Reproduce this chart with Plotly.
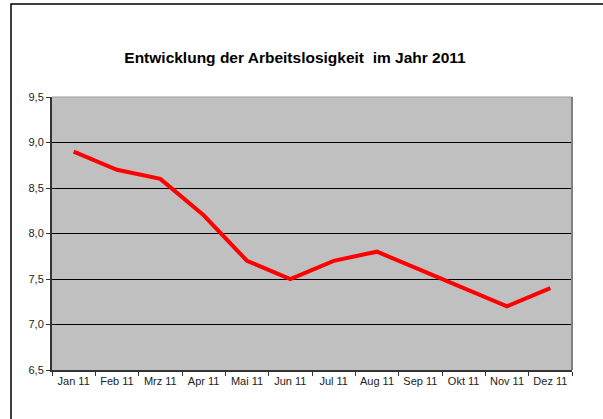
import plotly.graph_objects as go

months = ["Jan 11", "Feb 11", "Mrz 11", "Apr 11", "Mai 11", "Jun 11",
          "Jul 11", "Aug 11", "Sep 11", "Okt 11", "Nov 11", "Dez 11"]
rate = [8.9, 8.7, 8.6, 8.2, 7.7, 7.5, 7.7, 7.8, 7.6, 7.4, 7.2, 7.4]
ytick_vals = [6.5, 7.0, 7.5, 8.0, 8.5, 9.0, 9.5]
ytick_text = ["6,5", "7,0", "7,5", "8,0", "8,5", "9,0", "9,5"]

W, H = 603, 419
L, R, T, B = 52, 31, 97, 49
pw, ph = W - L - R, H - T - B

fig = go.Figure(go.Scatter(x=months, y=rate, mode="lines",
                           line=dict(color="#ff0000", width=4),
                           hoverinfo="skip"))

fig.update_layout(
    width=W, height=H,
    margin=dict(l=L, r=R, t=T, b=B),
    paper_bgcolor="white", plot_bgcolor="#c0c0c0",
    font=dict(family="Liberation Sans, Arial, sans-serif", size=11, color="#222"),
    showlegend=False,
    title=dict(text="<b>Entwicklung der Arbeitslosigkeit  im Jahr 2011</b>",
               x=295 / W, xanchor="center", y=1 - 58 / H, yanchor="middle",
               font=dict(size=15.5, color="black")),
    xaxis=dict(type="category", range=[-0.5, 11.5], tickson="boundaries",
               ticks="outside", ticklen=4, tickcolor="#333", showline=True,
               linecolor="#333", linewidth=2, showgrid=False, zeroline=False,
               tickfont=dict(size=11)),
    yaxis=dict(range=[6.5, 9.5], tickvals=ytick_vals, ticktext=ytick_text,
               ticks="outside", ticklen=4, tickcolor="#333", showline=True,
               linecolor="#333", linewidth=2, showgrid=True, gridcolor="black",
               gridwidth=1, zeroline=False, tickfont=dict(size=11)),
    shapes=[
        dict(type="line", xref="paper", yref="paper", x0=0, x1=1, y0=1, y1=1,
             line=dict(color="#9a9a9a", width=1), layer="above"),
        dict(type="line", xref="paper", yref="paper", x0=1, x1=1, y0=0, y1=1,
             line=dict(color="#808080", width=2), layer="above"),
        dict(type="rect", xref="paper", yref="paper",
             x0=(11 - L) / pw, x1=1.3, y0=-0.5, y1=1 + (T - 4) / ph,
             line=dict(color="black", width=1.5), layer="above"),
    ],
)

fig.write_html("out.html", config={"displayModeBar": False},
               post_script="document.body.style.margin='0';document.body.style.overflow='hidden';")
